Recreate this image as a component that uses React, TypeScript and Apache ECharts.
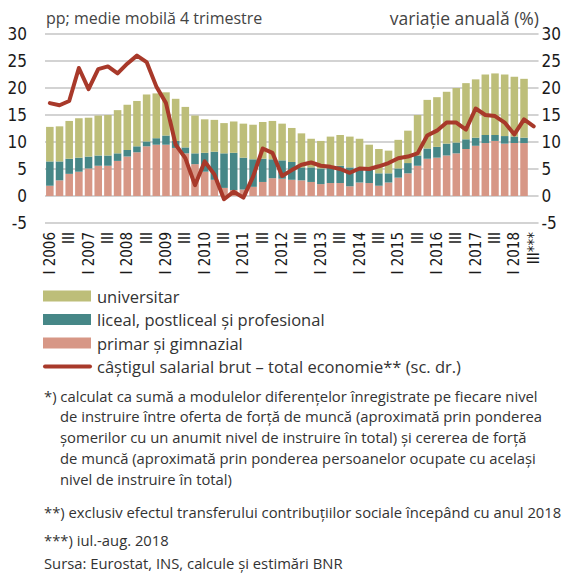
import React, { useEffect, useRef } from "react";
import * as echarts from "echarts";

// Quarter labels 2006 Q1 .. 2018 Q3
const quarterLabels: string[] = [
  "I 2006", "II", "III", "IV",
  "I 2007", "II", "III", "IV",
  "I 2008", "II", "III", "IV",
  "I 2009", "II", "III", "IV",
  "I 2010", "II", "III", "IV",
  "I 2011", "II", "III", "IV",
  "I 2012", "II", "III", "IV",
  "I 2013", "II", "III", "IV",
  "I 2014", "II", "III", "IV",
  "I 2015", "II", "III", "IV",
  "I 2016", "II", "III", "IV",
  "I 2017", "II", "III", "IV",
  "I 2018", "II", "III***",
];

// primar și gimnazial (pp)
const primar: (number | null)[] = [
  1.9, 2.9, 4.1, 4.5, 5.1, 5.6, 5.6, 6.5, 7.3, 8.1, 9.2, 9.5, 9.5, 8.9, 7.9, 5.9,
  4.5, 3.0, 1.5, 1.1, 1.2, 1.7, 2.6, 3.3, 3.2, 3.0, 2.9, 2.6, 2.2, 2.4, 2.4, 1.8,
  2.5, 2.4, 1.9, 2.5, 3.4, 4.2, 5.6, 6.9, 7.1, 7.5, 7.9, 8.7, 9.3, 9.8, 10.2, 9.7,
  9.8, 9.8, null,
];

// liceal, postliceal și profesional (pp)
const liceal: (number | null)[] = [
  4.5, 3.5, 2.8, 2.6, 2.2, 1.9, 1.9, 1.4, 1.2, 1.1, 0.9, 1.2, 1.7, 1.3, 1.1, 2.0,
  3.5, 5.2, 6.4, 6.9, 5.9, 5.1, 4.3, 3.5, 3.4, 3.3, 2.4, 2.7, 2.9, 2.9, 3.2, 3.5,
  2.8, 2.6, 2.3, 1.7, 1.7, 1.9, 1.9, 1.9, 2.0, 2.2, 2.0, 1.8, 1.5, 1.5, 1.1, 1.4,
  1.2, 1.0, null,
];

// universitar (pp)
const universitar: (number | null)[] = [
  6.4, 6.5, 7.0, 7.3, 7.2, 7.4, 7.5, 8.0, 8.4, 8.4, 8.7, 8.3, 8.0, 7.8, 7.5, 7.0,
  6.2, 5.9, 5.6, 5.8, 6.3, 6.4, 6.8, 7.1, 6.8, 6.3, 6.3, 5.3, 5.1, 5.7, 5.7, 5.7,
  5.3, 4.5, 4.5, 4.2, 5.3, 6.0, 7.5, 9.0, 9.2, 9.6, 10.1, 10.4, 10.8, 11.2, 11.4, 11.4,
  11.1, 10.9, null,
];

// câștigul salarial brut – total economie (variație anuală, %)
const castigSalarial: number[] = [
  17.2, 16.8, 17.6, 23.7, 19.8, 23.5, 24.0, 22.7, 24.5, 26.0, 24.8, 20.3, 17.2, 9.5, 7.0, 2.0,
  6.4, 4.0, -0.6, 0.8, -0.3, 3.6, 8.8, 8.0, 3.7, 4.8, 5.8, 6.2, 5.6, 5.4, 5.0, 4.3,
  5.1, 5.0, 5.5, 6.1, 7.0, 7.3, 7.9, 11.2, 12.1, 13.6, 13.6, 12.3, 16.2, 15.0, 14.8, 13.6,
  11.4, 14.2, 12.9,
];

const yTicks = { min: -5, max: 30, interval: 5 };

const legendItems = [
  { name: "universitar", color: "#BDBE79", kind: "bar" },
  { name: "liceal, postliceal și profesional", color: "#468787", kind: "bar" },
  { name: "primar și gimnazial", color: "#D79786", kind: "bar" },
  { name: "câștigul salarial brut – total economie** (sc. dr.)", color: "#A8392A", kind: "line" },
];

const footnotes = [
  { text: "*) calculat ca sumă a modulelor diferențelor înregistrate pe fiecare nivel", x: 44, y: 396 },
  { text: "de instruire între oferta de forță de muncă (aproximată prin ponderea", x: 60, y: 416 },
  { text: "șomerilor cu un anumit nivel de instruire în total) și cererea de forță", x: 60, y: 437 },
  { text: "de muncă (aproximată prin ponderea persoanelor ocupate cu același", x: 60, y: 458 },
  { text: "nivel de instruire în total)", x: 60, y: 479 },
  { text: "**) exclusiv efectul transferului contribuțiilor sociale începând cu anul 2018", x: 44, y: 512 },
  { text: "***) iul.-aug. 2018", x: 44, y: 540 },
  { text: "Sursa: Eurostat, INS, calcule și estimări BNR", x: 44, y: 563 },
];

const NARROW = "'Liberation Sans Narrow','DejaVu Sans Condensed','Roboto Condensed',sans-serif";
const BODY = "'Open Sans','Noto Sans',sans-serif";

export default function App() {
  const ref = useRef<HTMLDivElement>(null);

  useEffect(() => {
    if (!ref.current) return;
    const chart = echarts.init(ref.current, null, { renderer: "svg" });

    const graphics: any[] = [
      {
        type: "text",
        left: 46,
        top: 10,
        style: { text: "pp; medie mobilă 4 trimestre", font: `16px ${BODY}`, fill: "#444" },
      },
      {
        type: "text",
        right: 25,
        top: 9,
        style: { text: "variație anuală (%)", font: `17.5px ${BODY}`, fill: "#444", textAlign: "right" },
      },
    ];

    legendItems.forEach((it, i) => {
      const cy = 296 + i * 23.5;
      if (it.kind === "bar") {
        graphics.push({
          type: "rect",
          shape: { x: 43, y: cy - 5.5, width: 48, height: 11 },
          style: { fill: it.color },
        });
      } else {
        graphics.push({
          type: "line",
          shape: { x1: 45, y1: cy, x2: 90, y2: cy },
          style: { stroke: it.color, lineWidth: 4, lineCap: "round" },
        });
      }
      graphics.push({
        type: "text",
        x: 97,
        y: cy,
        style: {
          text: it.name,
          font: `16.5px ${BODY}`,
          fill: "#333",
          textVerticalAlign: "middle",
        },
      });
    });

    footnotes.forEach((f) => {
      graphics.push({
        type: "text",
        x: f.x,
        y: f.y,
        style: { text: f.text, font: `14.8px ${BODY}`, fill: "#333", textVerticalAlign: "middle" },
      });
    });

    const barCommon = {
      type: "bar",
      stack: "total",
      barCategoryGap: "22%",
      yAxisIndex: 0,
    };

    chart.setOption({
      animation: false,
      backgroundColor: "#fff",
      grid: { left: 45, right: 25, top: 34, bottom: 350, containLabel: false },
      xAxis: {
        type: "category",
        data: quarterLabels,
        boundaryGap: true,
        axisLine: { show: false },
        axisTick: { show: false },
        axisLabel: {
          rotate: 90,
          interval: (idx: number) => idx % 2 === 0,
          margin: 9,
          fontSize: 15,
          fontFamily: NARROW,
          color: "#1a1a1a",
        },
      },
      yAxis: [
        {
          type: "value",
          ...yTicks,
          axisLine: { show: false },
          axisTick: { show: false },
          splitLine: { lineStyle: { color: "#d3d3d3", width: 2 } },
          axisLabel: { margin: 18, fontSize: 17, fontFamily: NARROW, color: "#1a1a1a" },
        },
        {
          type: "value",
          ...yTicks,
          position: "right",
          axisLine: { show: false },
          axisTick: { show: false },
          splitLine: { show: false },
          axisLabel: { margin: 3, fontSize: 17, fontFamily: NARROW, color: "#1a1a1a" },
        },
      ],
      series: [
        { ...barCommon, name: "primar și gimnazial", data: primar, itemStyle: { color: "#D79786" } },
        { ...barCommon, name: "liceal, postliceal și profesional", data: liceal, itemStyle: { color: "#468787" } },
        { ...barCommon, name: "universitar", data: universitar, itemStyle: { color: "#BDBE79" } },
        {
          type: "line",
          name: "câștigul salarial brut – total economie** (sc. dr.)",
          yAxisIndex: 1,
          data: castigSalarial,
          symbol: "none",
          lineStyle: { color: "#A8392A", width: 4, cap: "round", join: "round" },
          itemStyle: { color: "#A8392A" },
          z: 5,
        },
      ],
      graphic: graphics,
    });

    return () => chart.dispose();
  }, []);

  return <div ref={ref} style={{ width: 564, height: 573, position: "absolute", left: 0, top: 0 }} />;
}
